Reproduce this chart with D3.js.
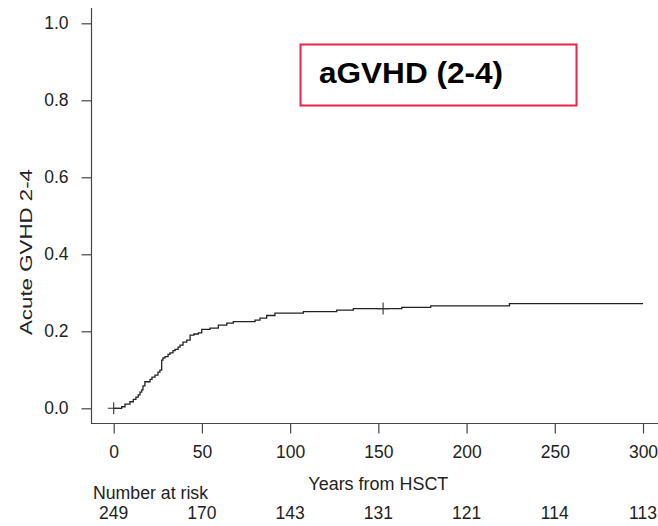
<!DOCTYPE html>
<html>
<head>
<meta charset="utf-8">
<script src="https://cdn.jsdelivr.net/npm/d3@7"></script>
<style>
  html, body { margin: 0; padding: 0; background: #fff; }
  svg { display: block; }
  text { font-family: "Liberation Sans", Arial, sans-serif; fill: #222; }
</style>
</head>
<body>
<svg id="chart" width="658" height="526"></svg>
<script>
// Cumulative incidence of acute GVHD grade 2-4: event times and the step value reached at each
const eventTimes = [0, 4.5, 6.4, 9.2, 11.1, 12.6, 13.9, 14.9, 15.9, 16.6, 17.7, 20.6, 21.7, 23.4, 25.1,
  26.2, 27.2, 27.9, 29.1, 30.8, 31.9, 33.6, 34.8, 36.5, 37.6, 39.3, 41.4, 43.3, 45.5, 48.0, 49.9,
  54.6, 59.3, 64.1, 67.8, 80.1, 82.9, 86.7, 91.4, 107.5, 126.4, 135.8, 163.3, 179.7, 224.3, 300];
const incidence = [0, 0.004, 0.011, 0.017, 0.023, 0.029, 0.035, 0.042, 0.048, 0.058, 0.069, 0.075, 0.081, 0.086, 0.094,
  0.099, 0.125, 0.131, 0.134, 0.140, 0.144, 0.150, 0.153, 0.159, 0.164, 0.172, 0.177, 0.190, 0.193, 0.196, 0.205,
  0.208, 0.216, 0.221, 0.225, 0.229, 0.234, 0.241, 0.247, 0.251, 0.255, 0.259, 0.262, 0.266, 0.272, 0.272];
// Censoring marks
const censorTimes = [0, 152.7];
// Axis ticks
const xTicks = [0, 50, 100, 150, 200, 250, 300];
const yTicks = [0, 0.2, 0.4, 0.6, 0.8, 1.0];
// Number at risk below each x tick
const riskTimes = [0, 50, 100, 150, 200, 250, 300];
const atRisk = [249, 170, 143, 131, 121, 114, 113];

const svg = d3.select("#chart");

const x = d3.scaleLinear().domain([0, 300]).range([113.7, 643]);
const y = d3.scaleLinear().domain([0, 1]).range([408.3, 23.3]);

const axisColor = "#444";
const font = "'Liberation Sans', Arial, sans-serif";

// L-shaped frame
svg.append("path")
  .attr("d", "M91.5,8V423.5H658")
  .attr("fill", "none").attr("stroke", axisColor).attr("stroke-width", 1.2);

// Y axis
const yAxis = svg.append("g").attr("transform", "translate(91.5,0)")
  .call(d3.axisLeft(y).tickValues(yTicks).tickSize(10).tickPadding(13).tickFormat(d3.format(".1f")));
yAxis.select(".domain").remove();
yAxis.selectAll("line").attr("stroke", axisColor).attr("stroke-width", 1.2);
yAxis.selectAll("text").attr("font-size", 17.5).attr("fill", "#222").style("font-family", font);

// X axis
const xAxis = svg.append("g").attr("transform", "translate(0,423.5)")
  .call(d3.axisBottom(x).tickValues(xTicks).tickSize(10).tickPadding(12).tickFormat(d3.format("d")));
xAxis.select(".domain").remove();
xAxis.selectAll("line").attr("stroke", axisColor).attr("stroke-width", 1.2);
xAxis.selectAll("text").attr("font-size", 17.5).attr("fill", "#222").style("font-family", font);

// Axis titles
svg.append("text")
  .attr("transform", "translate(32,252) rotate(-90)")
  .attr("text-anchor", "middle").attr("font-size", 16.5)
  .attr("textLength", 166).attr("lengthAdjust", "spacingAndGlyphs")
  .text("Acute GVHD 2-4");

svg.append("text")
  .attr("x", (x(0) + x(300)) / 2).attr("y", 490)
  .attr("text-anchor", "middle").attr("font-size", 17.5)
  .attr("textLength", 140).attr("lengthAdjust", "spacingAndGlyphs")
  .text("Years from HSCT");

// Step curve
const pts = eventTimes.map((t, i) => [t, incidence[i]]);
const line = d3.line().x(d => x(d[0])).y(d => y(d[1])).curve(d3.curveStepAfter);
svg.append("path")
  .datum(pts)
  .attr("d", line)
  .attr("fill", "none").attr("stroke", "#222").attr("stroke-width", 1.3);

// Censoring marks
const stepValue = t => {
  let v = 0;
  eventTimes.forEach((e, i) => { if (e <= t) v = incidence[i]; });
  return v;
};
censorTimes.forEach(t => {
  const cx = x(t), cy = y(stepValue(t));
  svg.append("path")
    .attr("d", `M${cx - 6},${cy}H${cx + 6}M${cx},${cy - 6}V${cy + 6}`)
    .attr("stroke", "#333").attr("stroke-width", 1.1).attr("fill", "none");
});

// Number at risk table
svg.append("text").attr("x", 93).attr("y", 499).attr("font-size", 17.5)
  .attr("textLength", 115).attr("lengthAdjust", "spacingAndGlyphs")
  .text("Number at risk");
svg.selectAll(".risk").data(riskTimes).enter().append("text")
  .attr("class", "risk")
  .attr("x", d => x(d)).attr("y", 519)
  .attr("text-anchor", "middle").attr("font-size", 17.5)
  .text((d, i) => atRisk[i]);

// Title box
svg.append("rect")
  .attr("x", 300.5).attr("y", 44.5).attr("width", 276).attr("height", 61)
  .attr("fill", "none").attr("stroke", "#e8254a").attr("stroke-width", 2);
svg.append("text")
  .attr("x", 319).attr("y", 83)
  .attr("font-size", 29).attr("font-weight", "bold").style("fill", "#000")
  .attr("textLength", 184).attr("lengthAdjust", "spacingAndGlyphs")
  .text("aGVHD (2-4)");
</script>
</body>
</html>
